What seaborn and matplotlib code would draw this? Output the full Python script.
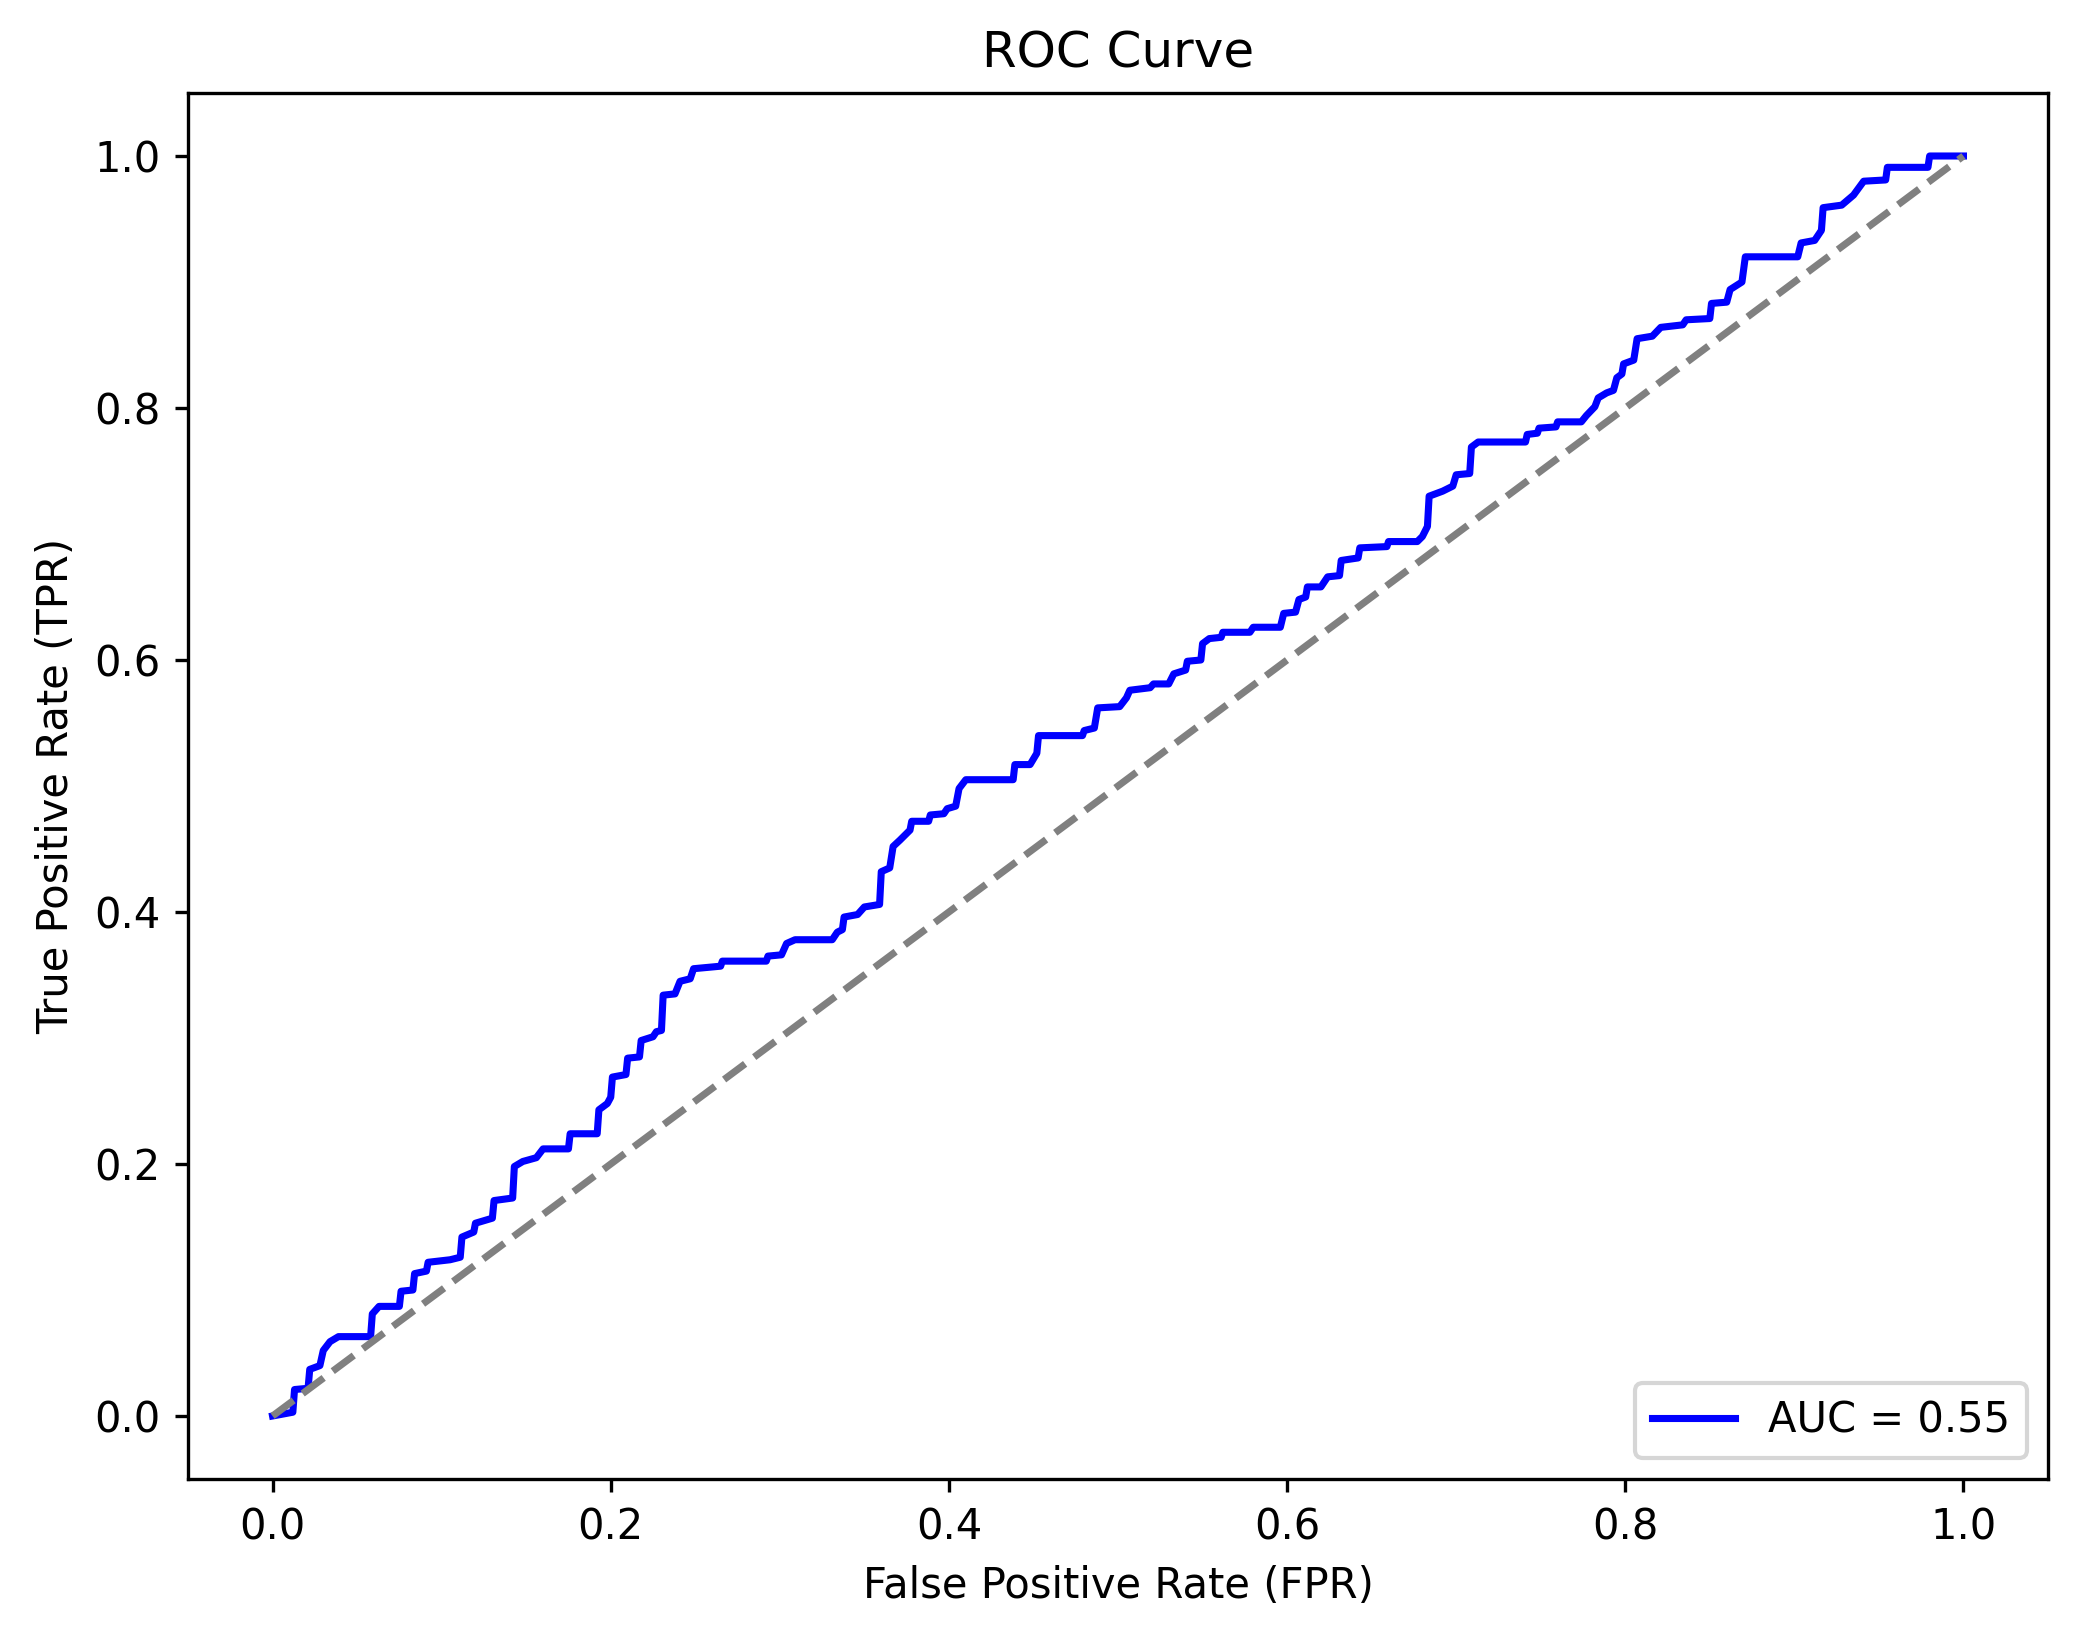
import matplotlib
matplotlib.use("Agg")
import matplotlib.pyplot as plt
import seaborn as sns
import pandas as pd

fpr = [0.000, 0.012, 0.013, 0.021, 0.022, 0.028, 0.030, 0.034, 0.039, 0.058,
       0.059, 0.063, 0.075, 0.076, 0.083, 0.084, 0.091, 0.092, 0.105, 0.111,
       0.112, 0.119, 0.120, 0.130, 0.131, 0.142, 0.143, 0.148, 0.156, 0.160,
       0.175, 0.176, 0.192, 0.193, 0.198, 0.200, 0.201, 0.209, 0.210, 0.217,
       0.218, 0.225, 0.227, 0.230, 0.231, 0.238, 0.241, 0.247, 0.249, 0.265,
       0.266, 0.292, 0.293, 0.301, 0.304, 0.309, 0.331, 0.334, 0.337, 0.338,
       0.346, 0.350, 0.359, 0.360, 0.365, 0.367, 0.371, 0.377, 0.378, 0.388,
       0.389, 0.397, 0.399, 0.404, 0.406, 0.410, 0.438, 0.439, 0.448, 0.452,
       0.453, 0.479, 0.480, 0.486, 0.488, 0.501, 0.505, 0.507, 0.519, 0.521,
       0.530, 0.533, 0.540, 0.541, 0.549, 0.550, 0.554, 0.561, 0.562, 0.578,
       0.580, 0.596, 0.598, 0.605, 0.607, 0.611, 0.612, 0.620, 0.624, 0.631,
       0.632, 0.642, 0.643, 0.659, 0.660, 0.677, 0.680, 0.683, 0.684, 0.692,
       0.698, 0.700, 0.708, 0.709, 0.713, 0.741, 0.742, 0.748, 0.749, 0.759,
       0.760, 0.774, 0.777, 0.782, 0.784, 0.789, 0.793, 0.795, 0.798, 0.799,
       0.805, 0.807, 0.816, 0.821, 0.834, 0.836, 0.850, 0.851, 0.860, 0.862,
       0.869, 0.871, 0.902, 0.904, 0.912, 0.916, 0.917, 0.928, 0.935, 0.941,
       0.954, 0.955, 0.979, 0.980, 1.000]

tpr = [0.000, 0.003, 0.021, 0.022, 0.037, 0.040, 0.052, 0.059, 0.063, 0.063,
       0.081, 0.087, 0.087, 0.099, 0.100, 0.113, 0.115, 0.122, 0.124, 0.126,
       0.142, 0.146, 0.153, 0.157, 0.171, 0.173, 0.198, 0.202, 0.205, 0.212,
       0.212, 0.224, 0.224, 0.243, 0.248, 0.253, 0.269, 0.271, 0.284, 0.285,
       0.298, 0.301, 0.305, 0.306, 0.334, 0.335, 0.345, 0.347, 0.355, 0.357,
       0.361, 0.361, 0.365, 0.366, 0.375, 0.378, 0.378, 0.384, 0.386, 0.396,
       0.398, 0.404, 0.406, 0.432, 0.435, 0.452, 0.457, 0.465, 0.472, 0.472,
       0.477, 0.478, 0.482, 0.484, 0.498, 0.505, 0.505, 0.517, 0.517, 0.526,
       0.540, 0.540, 0.544, 0.546, 0.562, 0.563, 0.570, 0.576, 0.578, 0.581,
       0.581, 0.589, 0.592, 0.599, 0.600, 0.613, 0.617, 0.618, 0.622, 0.622,
       0.626, 0.626, 0.637, 0.638, 0.648, 0.650, 0.658, 0.658, 0.666, 0.667,
       0.679, 0.681, 0.689, 0.690, 0.694, 0.694, 0.698, 0.706, 0.730, 0.734,
       0.738, 0.747, 0.748, 0.769, 0.773, 0.773, 0.779, 0.780, 0.784, 0.785,
       0.789, 0.789, 0.794, 0.801, 0.808, 0.812, 0.814, 0.824, 0.827, 0.835,
       0.838, 0.855, 0.857, 0.864, 0.866, 0.870, 0.871, 0.883, 0.884, 0.894,
       0.900, 0.920, 0.920, 0.931, 0.933, 0.941, 0.959, 0.961, 0.969, 0.980,
       0.981, 0.991, 0.991, 1.000, 1.000]

diag_x = [0.0, 1.0]
diag_y = [0.0, 1.0]
auc_label = "AUC = 0.55"

roc = pd.DataFrame({"fpr": fpr, "tpr": tpr})
diag = pd.DataFrame({"x": diag_x, "y": diag_y})

DPI = 300
W, H = 2073, 1633
fig = plt.figure(figsize=(W / DPI, H / DPI), dpi=DPI)
ax = fig.add_axes([188 / W, 1 - 1479 / H, (2048 - 188) / W, (1479 - 93) / H])

sns.lineplot(data=roc, x="fpr", y="tpr", sort=False, estimator=None,
             color="blue", linewidth=1.7, label=auc_label, ax=ax)
sns.lineplot(data=diag, x="x", y="y", sort=False, estimator=None,
             color="gray", linestyle="--", linewidth=1.7, ax=ax)

ax.set_xlim(-0.05, 1.05)
ax.set_ylim(-0.05, 1.05)
ax.set_xticks([0.0, 0.2, 0.4, 0.6, 0.8, 1.0])
ax.set_yticks([0.0, 0.2, 0.4, 0.6, 0.8, 1.0])
ax.tick_params(length=3.1)
ax.set_xlabel("False Positive Rate (FPR)")
ax.set_ylabel("True Positive Rate (TPR)")
ax.set_title("ROC Curve")
ax.legend(loc="lower right")

fig.savefig("out.png", dpi=DPI)
